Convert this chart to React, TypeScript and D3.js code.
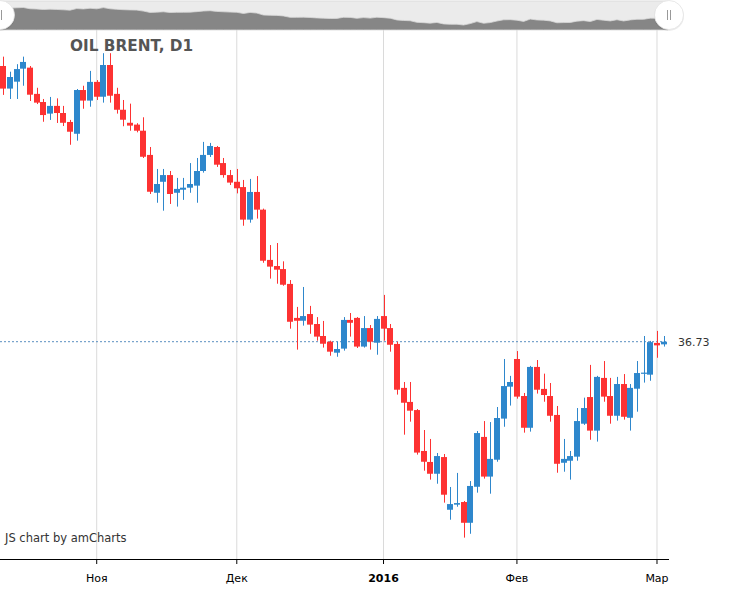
import React from 'react';
import * as d3 from 'd3';

// trading days shown in the chart
const dates = [
  '2015-10-13', '2015-10-14', '2015-10-15', '2015-10-16', '2015-10-19', '2015-10-20', '2015-10-21',
  '2015-10-22', '2015-10-23', '2015-10-26', '2015-10-27', '2015-10-28', '2015-10-29', '2015-10-30',
  '2015-11-02', '2015-11-03', '2015-11-04', '2015-11-05', '2015-11-06', '2015-11-09', '2015-11-10',
  '2015-11-11', '2015-11-12', '2015-11-13', '2015-11-16', '2015-11-17', '2015-11-18', '2015-11-19',
  '2015-11-20', '2015-11-23', '2015-11-24', '2015-11-25', '2015-11-26', '2015-11-27', '2015-11-30',
  '2015-12-01', '2015-12-02', '2015-12-03', '2015-12-04', '2015-12-07', '2015-12-08', '2015-12-09',
  '2015-12-10', '2015-12-11', '2015-12-14', '2015-12-15', '2015-12-16', '2015-12-17', '2015-12-18',
  '2015-12-21', '2015-12-22', '2015-12-23', '2015-12-24', '2015-12-28', '2015-12-29', '2015-12-30',
  '2015-12-31', '2016-01-04', '2016-01-05', '2016-01-06', '2016-01-07', '2016-01-08', '2016-01-11',
  '2016-01-12', '2016-01-13', '2016-01-14', '2016-01-15', '2016-01-18', '2016-01-19', '2016-01-20',
  '2016-01-21', '2016-01-22', '2016-01-25', '2016-01-26', '2016-01-27', '2016-01-28', '2016-01-29',
  '2016-02-01', '2016-02-02', '2016-02-03', '2016-02-04', '2016-02-05', '2016-02-08', '2016-02-09',
  '2016-02-10', '2016-02-11', '2016-02-12', '2016-02-15', '2016-02-16', '2016-02-17', '2016-02-18',
  '2016-02-19', '2016-02-22', '2016-02-23', '2016-02-24', '2016-02-25', '2016-02-26', '2016-02-29',
  '2016-03-01', '2016-03-02',
];

const opens = [
  50.28, 49.17, 49.51, 50.15, 50.20, 48.91, 48.51, 47.94, 48.32, 47.97, 47.53, 46.95, 49.10, 48.58,
  49.50, 48.77, 50.33, 48.91, 48.13, 47.49, 47.40, 47.10, 45.91, 44.05, 44.59, 44.92, 44.05, 44.20,
  44.30, 44.40, 45.12, 45.91, 46.30, 45.51, 44.92, 44.59, 44.33, 42.73, 44.09, 43.22, 40.75, 40.45,
  40.30, 39.57, 37.90, 37.76, 38.09, 37.60, 37.01, 36.73, 36.19, 36.39, 37.80, 37.90, 36.49, 37.40,
  36.68, 37.99, 37.40, 36.62, 34.46, 33.77, 33.37, 31.36, 30.82, 30.24, 31.06, 28.47, 28.72, 28.85,
  27.83, 29.60, 32.05, 30.10, 30.93, 32.95, 34.52, 35.88, 34.06, 32.50, 35.49, 34.41, 34.06, 33.13,
  30.78, 30.88, 31.08, 32.70, 34.01, 32.36, 34.95, 34.06, 33.09, 34.65, 32.99, 34.42, 35.16, 35.11,
  36.67, 36.60,
];

const highs = [
  50.74, 50.00, 50.37, 50.74, 50.28, 49.21, 48.66, 48.76, 48.69, 48.32, 47.63, 49.15, 49.31, 50.04,
  49.59, 50.91, 50.91, 49.21, 48.61, 48.43, 47.47, 47.76, 46.30, 45.22, 45.22, 45.12, 44.78, 44.78,
  45.51, 45.76, 46.55, 46.50, 46.35, 45.76, 45.17, 45.22, 44.68, 44.73, 44.87, 43.27, 41.48, 41.58,
  40.68, 39.76, 38.44, 39.42, 38.49, 37.94, 37.75, 36.78, 36.73, 37.94, 38.14, 37.94, 37.99, 37.55,
  37.99, 39.03, 37.60, 36.73, 34.75, 34.75, 33.42, 32.39, 31.95, 31.26, 31.21, 29.59, 30.28, 28.90,
  29.88, 32.34, 32.83, 32.78, 33.52, 35.88, 35.05, 36.27, 34.21, 35.54, 35.83, 35.16, 34.70, 33.57,
  31.95, 31.36, 33.47, 33.98, 35.59, 35.05, 35.78, 34.95, 35.00, 35.14, 34.65, 35.78, 37.01, 36.77,
  37.26, 37.01,
];

const lows = [
  48.86, 48.66, 48.66, 49.31, 48.56, 48.41, 47.54, 47.63, 47.48, 47.33, 46.41, 46.61, 48.18, 48.28,
  48.61, 48.48, 48.48, 47.94, 47.32, 47.10, 47.02, 45.76, 43.99, 43.56, 43.17, 43.50, 43.37, 43.70,
  44.05, 43.56, 45.04, 45.81, 45.32, 44.79, 44.43, 44.02, 42.43, 42.58, 42.78, 40.61, 39.83, 39.58,
  39.48, 37.37, 36.34, 37.52, 37.12, 36.78, 36.44, 36.04, 35.99, 36.29, 36.98, 36.42, 36.44, 36.34,
  36.09, 36.78, 36.24, 34.13, 32.16, 32.80, 31.18, 30.39, 29.95, 29.75, 28.82, 27.98, 28.62, 27.10,
  27.29, 29.31, 30.00, 29.26, 30.83, 32.55, 33.59, 33.93, 32.26, 32.31, 34.18, 33.78, 32.80, 30.29,
  30.34, 29.95, 30.88, 32.64, 31.91, 31.82, 33.78, 32.70, 32.85, 32.90, 32.36, 33.29, 34.72, 34.81,
  35.94, 36.49,
];

const closes = [
  49.17, 49.74, 50.13, 50.48, 48.87, 48.48, 47.87, 48.32, 47.97, 47.49, 47.05, 49.10, 48.58, 49.50,
  48.77, 50.33, 48.82, 48.13, 47.64, 47.35, 47.10, 45.82, 44.10, 44.48, 44.92, 43.99, 44.24, 44.30,
  44.48, 45.12, 45.91, 46.35, 45.43, 44.92, 44.55, 44.27, 42.73, 44.09, 43.22, 40.71, 40.42, 40.27,
  39.53, 37.71, 37.76, 37.99, 37.57, 36.98, 36.63, 36.24, 36.37, 37.80, 37.66, 36.49, 37.40, 36.73,
  37.85, 37.37, 36.58, 34.37, 33.73, 33.34, 31.28, 30.83, 30.24, 31.11, 29.21, 28.75, 28.80, 27.83,
  29.64, 32.24, 30.10, 30.97, 32.98, 34.55, 34.75, 34.03, 32.50, 35.49, 34.37, 34.11, 33.09, 30.73,
  30.97, 31.11, 32.83, 33.47, 32.36, 35.00, 34.03, 33.09, 34.65, 33.04, 34.46, 35.19, 35.21, 36.71,
  36.55, 36.73,
];

const tickDates = ['2015-11-02', '2015-12-01', '2016-01-04', '2016-02-01', '2016-03-01'];
const tickLabels = ['Ноя', 'Дек', '2016', 'Фев', 'Мар'];
const boldTicks = ['2016'];

const title = 'OIL BRENT, D1';
const lastValue = 36.73;

const W = 729;
const H = 590;
const plot = { left: 0, right: 667, top: 30, bottom: 559 };
const RED = '#fd3232';
const BLUE = '#2e87cc';
const FONT = '"DejaVu Sans", Verdana, sans-serif';

const App = () => {
  const x = d3.scaleBand<string>().domain(dates).range([plot.left, plot.right]).padding(0);
  const bw = x.bandwidth();
  const cx = (d: string) => (x(d) as number) + bw / 2;
  const y = d3.scaleLinear().domain([26.05, 52.05]).range([plot.bottom, plot.top]);

  // scrollbar preview graph
  const sy = d3.scaleLinear()
    .domain([d3.min(closes) as number, d3.max(closes) as number])
    .range([25, 7.5]);
  const areaPts = [closes[0], ...closes, closes[closes.length - 1]];
  const areaX = (i: number) => (i === 0 ? 0 : i === areaPts.length - 1 ? 668 : cx(dates[i - 1]));
  const scrollArea = d3.area<number>()
    .x((_, i) => areaX(i))
    .y0(30)
    .y1(v => sy(v))(areaPts);

  const grip = (gx: number) => (
    <g>
      <circle cx={gx} cy={16} r={15} fill="#000" opacity={0.08} />
      <circle cx={gx} cy={15} r={14.5} fill="#fff" stroke="#e2e2e2" strokeWidth={0.8} />
      <line x1={gx - 1.5} x2={gx - 1.5} y1={10} y2={20} stroke="#999" strokeWidth={1} />
      <line x1={gx + 1.5} x2={gx + 1.5} y1={10} y2={20} stroke="#999" strokeWidth={1} />
    </g>
  );

  return (
    <svg
      width={W}
      height={H}
      style={{ position: 'absolute', left: 0, top: 0, background: '#fff' }}
      fontFamily={FONT}
    >
      <defs>
        <clipPath id="plotClip">
          <rect x={plot.left} y={plot.top} width={plot.right - plot.left + 1} height={plot.bottom - plot.top} />
        </clipPath>
      </defs>

      {/* scrollbar */}
      <rect x={0} y={1} width={668} height={29} fill="#ebebeb" />
      <line x1={0} x2={668} y1={1} y2={1} stroke="#dcdcdc" />
      <path d={scrollArea as string} fill="#868686" stroke="#d8d8d8" strokeWidth={0.8} />
      {grip(0)}
      {grip(669)}

      {/* grid */}
      {tickDates.map(d => (
        <line key={'g' + d} x1={cx(d)} x2={cx(d)} y1={plot.top} y2={plot.bottom} stroke="#dadada" strokeWidth={1} />
      ))}

      {/* title */}
      <text x={70} y={51} fontSize={15.3} fontWeight="bold" fill="#555">{title}</text>

      {/* current value guide */}
      <line
        x1={0}
        x2={668}
        y1={y(lastValue)}
        y2={y(lastValue)}
        stroke="#5a8fc0"
        strokeWidth={1}
        strokeDasharray="2,2"
      />
      <text x={678} y={y(lastValue) + 4} fontSize={11} fill="#333">{lastValue.toFixed(2)}</text>

      {/* candles */}
      <g clipPath="url(#plotClip)">
        {dates.map((d, i) => {
          const o = opens[i];
          const c = closes[i];
          const up = c >= o;
          const col = up ? BLUE : RED;
          const top = y(Math.max(o, c));
          const bot = y(Math.min(o, c));
          const xc = Math.round(cx(d)) + 0.5;
          return (
            <g key={d}>
              <line x1={xc} x2={xc} y1={y(highs[i])} y2={y(lows[i])} stroke={col} strokeWidth={1} />
              <rect
                x={xc - 3.5}
                y={top}
                width={6}
                height={Math.max(1.2, bot - top)}
                fill={col}
              />
            </g>
          );
        })}
      </g>

      {/* watermark */}
      <text x={5} y={542} fontSize={11.5} fill="#333">JS chart by amCharts</text>

      {/* category axis */}
      <line x1={0} x2={669} y1={plot.bottom + 0.5} y2={plot.bottom + 0.5} stroke="#000" strokeWidth={1} />
      {tickDates.map((d, i) => (
        <g key={'t' + d}>
          <line x1={cx(d)} x2={cx(d)} y1={plot.bottom} y2={plot.bottom + 5} stroke="#000" strokeWidth={1} />
          <text
            x={cx(d)}
            y={582}
            fontSize={11}
            textAnchor="middle"
            fill="#000"
            fontWeight={boldTicks.includes(tickLabels[i]) ? 'bold' : 'normal'}
          >
            {tickLabels[i]}
          </text>
        </g>
      ))}
    </svg>
  );
};

export default App;
